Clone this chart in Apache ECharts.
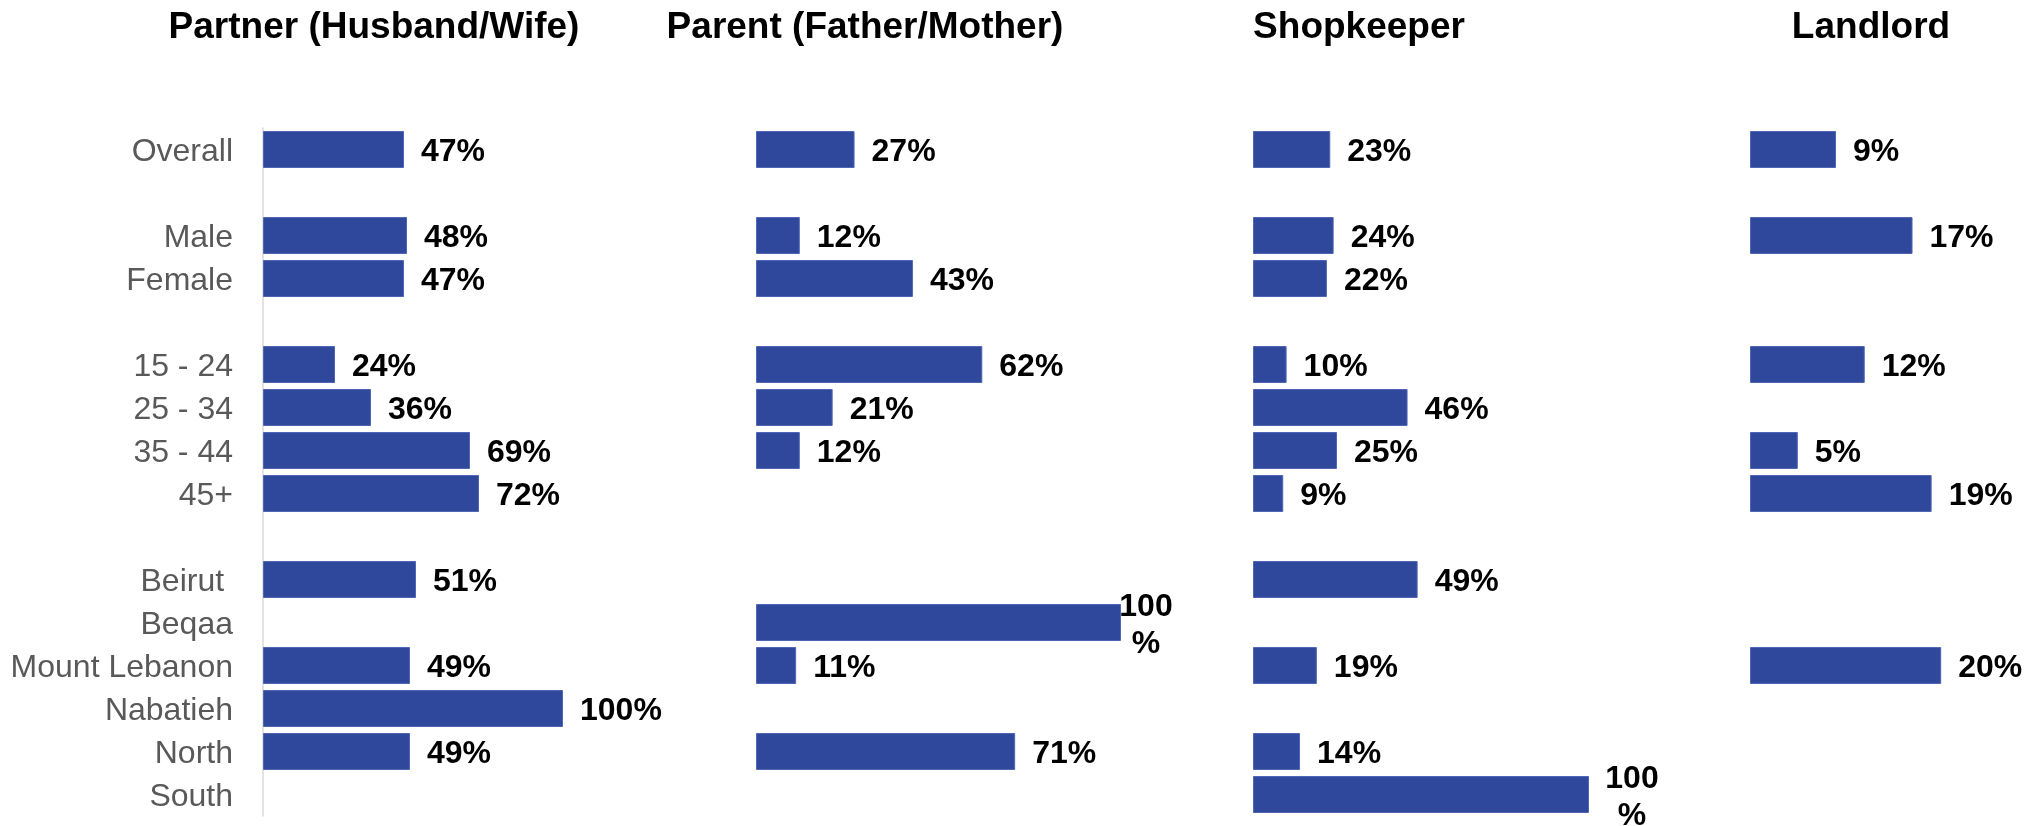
<!DOCTYPE html>
<html lang="en">
<head>
    <meta charset="UTF-8"/>
    <title>Trusted people by group</title>
    <script src="https://cdn.jsdelivr.net/npm/echarts@6/dist/echarts.min.js"></script>
    <style>
        body {
            margin: 0;
            background-color: #fff;
        }

        #chart {
            width: 2032px;
            height: 826px;
        }
    </style>
</head>
<body>

<div id="chart"></div>

<script>
    // rows top to bottom, empty strings are the spacer rows between groups
    const categories = ['Overall', '', 'Male', 'Female', '', '15 - 24', '25 - 34', '35 - 44', '45+', '',
        'Beirut ', 'Beqaa', 'Mount Lebanon', 'Nabatieh', 'North', 'South'];

    const partner = [47, null, 48, 47, null, 24, 36, 69, 72, null, 51, null, 49, 100, 49, null];
    const parent = [27, null, 12, 43, null, 62, 21, 12, null, null, null, 100, 11, null, 71, null];
    const shopkeeper = [23, null, 24, 22, null, 10, 46, 25, 9, null, 49, null, 19, null, 14, 100];
    const landlord = [9, null, 17, null, null, 12, null, 5, 19, null, null, null, 20, null, null, null];

    const titles = ['Partner (Husband/Wife)', 'Parent (Father/Mother)', 'Shopkeeper', 'Landlord'];

    const FONT = '"Liberation Sans", Arial, Helvetica, sans-serif';
    const BAR = '#30489c';

    // each small chart gets its own grid and its own x scale
    const panels = [
        {values: partner, left: 263, width: 300, max: 100, titleX: 374, wrap: false},
        {values: parent, left: 756, width: 365, max: 100, titleX: 865, wrap: true, wrapDist: 25},
        {values: shopkeeper, left: 1253, width: 336, max: 100, titleX: 1359, wrap: true, wrapDist: 43},
        {values: landlord, left: 1750, width: 239, max: 25, titleX: 1871, wrap: false}
    ];

    const chart = echarts.init(document.getElementById('chart'));

    chart.setOption({
        animation: false,
        graphic: titles.map((t, i) => ({
            type: 'text',
            x: panels[i].titleX,
            y: 28,
            style: {
                text: t,
                fontSize: 37,
                fontWeight: 'bold',
                fontFamily: FONT,
                fill: '#000',
                align: 'center',
                verticalAlign: 'middle'
            }
        })),
        grid: panels.map(p => ({
            left: p.left,
            width: p.width,
            top: 128,
            height: 688,
            containLabel: false,
            outerBoundsMode: 'none'
        })),
        xAxis: panels.map((p, i) => ({
            type: 'value',
            gridIndex: i,
            min: 0,
            max: p.max,
            show: false
        })),
        yAxis: panels.map((p, i) => ({
            type: 'category',
            gridIndex: i,
            data: categories,
            inverse: true,
            show: i === 0,
            axisLine: {show: true, lineStyle: {color: '#d9d9d9', width: 1.5}},
            axisTick: {show: false},
            splitLine: {show: false},
            axisLabel: {
                interval: 0,
                margin: 30,
                fontSize: 32,
                color: '#595959',
                fontFamily: FONT,
                // nudge the text a few px down so it sits on the bar centre
                verticalAlign: 'top',
                lineHeight: 6
            }
        })),
        series: panels.map((p, i) => ({
            type: 'bar',
            xAxisIndex: i,
            yAxisIndex: i,
            barCategoryGap: '14%',
            itemStyle: {color: BAR, borderColor: '#4f67b6', borderWidth: 1},
            label: {
                show: true,
                position: 'right',
                distance: 17,
                offset: [0, 3],
                formatter: '{c}%',
                fontSize: 32,
                fontWeight: 'bold',
                color: '#000',
                fontFamily: FONT
            },
            data: p.values.map(v => (p.wrap && v === 100) ? {
                value: v,
                label: {
                    width: 56,
                    overflow: 'breakAll',
                    align: 'center',
                    lineHeight: 37,
                    distance: p.wrapDist
                }
            } : v)
        }))
    });
</script>

</body>
</html>
